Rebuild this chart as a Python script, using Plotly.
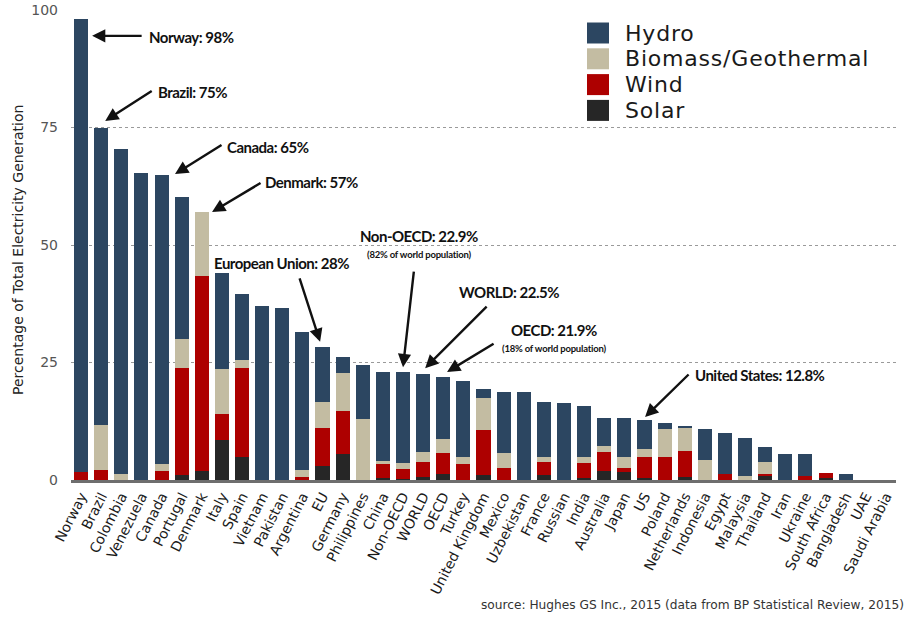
import plotly.graph_objects as go

# ---------------- data ----------------
categories = ["Norway", "Brazil", "Colombia", "Venezuela", "Canada", "Portugal", "Denmark",
              "Italy", "Spain", "Vietnam", "Pakistan", "Argentina", "EU", "Germany",
              "Philippines", "China", "Non-OECD", "WORLD", "OECD", "Turkey", "United Kingdom",
              "Mexico", "Uzbekistan", "France", "Russian", "India", "Australia", "Japan", "US",
              "Poland", "Netherlands", "Indonesia", "Egypt", "Malaysia", "Thailand", "Iran",
              "Ukraine", "South Africa", "Bangladesh", "UAE", "Saudi Arabia"]

solar = [0, 0, 0, 0, 0, 1.1, 1.9, 8.5, 4.8, 0, 0, 0, 3.0, 5.5, 0, 0.5, 0.2, 0.6, 1.3, 0,
         1.1, 0, 0, 1.1, 0, 0.5, 1.9, 1.8, 0.4, 0, 0.7, 0, 0, 0, 1.0, 0, 0, 0.5, 0, 0, 0]
wind = [1.6, 2.1, 0, 0, 2.0, 22.7, 41.5, 5.5, 19.0, 0, 0, 0.6, 8.0, 9.2, 0, 2.8, 2.1, 3.2, 4.4, 3.3,
        9.6, 2.5, 0, 2.8, 0, 3.1, 4.1, 0.7, 4.4, 4.8, 5.5, 0, 1.2, 0, 0.3, 0, 0.8, 0.9, 0, 0, 0]
biomass = [0, 9.7, 1.2, 0, 1.4, 6.1, 13.6, 9.7, 1.8, 0, 0, 1.5, 5.6, 8.1, 12.9, 0.8, 1.3, 2.1, 3.0, 1.5,
           6.7, 3.2, 0, 1.1, 0, 1.4, 1.3, 2.3, 1.8, 6.1, 4.9, 4.3, 0, 0.9, 2.5, 0, 0, 0, 0, 0, 0]
hydro = [96.4, 63.2, 69.3, 65.4, 61.6, 30.3, 0, 20.4, 14.0, 37.0, 36.5, 29.3, 11.7, 3.4, 11.6, 18.9,
         19.3, 16.6, 13.2, 16.2, 1.9, 13.1, 18.8, 11.5, 16.3, 10.8, 5.9, 8.4, 6.2, 1.2, 0.3, 6.5,
         8.8, 8.0, 3.2, 5.5, 4.7, 0, 1.2, 0, 0]

series_names = ["Solar", "Wind", "Biomass/Geothermal", "Hydro"]
series_values = [solar, wind, biomass, hydro]
series_colors = ["#262626", "#ad0000", "#c3bca2", "#2c4661"]

y_ticks = [0, 25, 50, 75, 100]

# callouts: (text, subtitle, category at head, x offset in category units, y value at head)
callouts = [
    ("Norway: 98%", "", "Norway", 0.55, 94.5),
    ("Brazil: 75%", "", "Brazil", 0.2, 76.4),
    ("Canada: 65%", "", "Canada", 0.67, 65.1),
    ("Denmark: 57%", "", "Denmark", 0.51, 57.0),
    ("European Union: 28%", "", "EU", -0.12, 29.4),
    ("Non-OECD: 22.9%", "(82% of world population)", "Non-OECD", 0.0, 24.0),
    ("WORLD: 22.5%", "", "WORLD", 0.1, 23.8),
    ("OECD: 21.9%", "(18% of world population)", "OECD", 0.19, 23.0),
    ("United States: 12.8%", "", "US", 0.03, 13.4),
]
# ---------------- layout helpers ----------------
W, H = 924, 621
L, R, T, B = 71, 28, 10, 141
PW, PH = W - L - R, H - T - B


def px(x):
    return (x - L) / PW


def py(y):
    return (H - B - y) / PH


fig = go.Figure()
for name, vals, col in zip(series_names, series_values, series_colors):
    fig.add_trace(go.Bar(x=categories, y=vals, name=name, marker=dict(color=col, line=dict(width=0)),
                         showlegend=False, hoverinfo="x+y+name"))

LBL_FONT = "Lato, sans-serif"
annotations = []
arrow_tails = [(51, 0), (48, -31), (48, -30), (50, -30), (-21, -65), (11, -97), (63, -63), (48, -29), (45, -44)]
text_pos = [(191, 37), (192, 92), (268, 147), (311, 182), (281, 263), (419, 236), (509, 292), (554, 330), (760, 375)]
sub_pos = {5: (419, 254), 7: (554, 348)}

for k, (txt, sub, cat, dx, yv) in enumerate(callouts):
    idx = categories.index(cat) + dx
    ax, ay = arrow_tails[k]
    annotations.append(dict(x=idx, y=yv, xref="x", yref="y", text="", showarrow=True,
                            ax=ax, ay=ay, arrowhead=2, arrowsize=1.1, arrowwidth=2.4,
                            arrowcolor="#111111", standoff=0))
    tx, ty = text_pos[k]
    annotations.append(dict(x=px(tx), y=py(ty), xref="paper", yref="paper",
                            text="<span style='letter-spacing:-0.5px'><b>%s</b></span>" % txt,
                            showarrow=False, xanchor="center", yanchor="middle",
                            font=dict(family=LBL_FONT, size=15, color="#111111")))
    if sub:
        sx, sy = sub_pos[k]
        annotations.append(dict(x=px(sx), y=py(sy), xref="paper", yref="paper",
                                text="<span style='letter-spacing:-0.2px'><b>%s</b></span>" % sub,
                                showarrow=False, xanchor="center", yanchor="middle",
                                font=dict(family=LBL_FONT, size=9.5, color="#111111")))

# manual legend
legend_order = ["Hydro", "Biomass/Geothermal", "Wind", "Solar"]
shapes = []
for j, name in enumerate(legend_order):
    col = series_colors[series_names.index(name)]
    y0 = 22.5 + j * 25.8
    shapes.append(dict(type="rect", xref="paper", yref="paper", x0=px(587), x1=px(609),
                       y0=py(y0 + 21), y1=py(y0), fillcolor=col, line=dict(width=0)))
    annotations.append(dict(x=px(623), y=py(y0 + 10.5), xref="paper", yref="paper",
                            text="<span style='letter-spacing:0.8px'>%s</span>" % name,
                            showarrow=False, xanchor="left", yanchor="middle",
                            font=dict(family="DejaVu Sans", size=22, color="#1a1a1a")))

# y-axis title and source
annotations.append(dict(x=px(18), y=py(250), xref="paper", yref="paper",
                        text="Percentage of Total Electricity Generation", textangle=-90,
                        showarrow=False, xanchor="center", yanchor="middle",
                        font=dict(family="DejaVu Sans", size=14, color="#222222")))
annotations.append(dict(x=px(906), y=py(605), xref="paper", yref="paper",
                        text="source: Hughes GS Inc., 2015 (data from BP Statistical Review, 2015)",
                        showarrow=False, xanchor="right", yanchor="middle",
                        font=dict(family="DejaVu Sans", size=12.2, color="#333333")))

fig.update_layout(
    width=W, height=H, margin=dict(l=L, r=R, t=T, b=B, autoexpand=False),
    barmode="stack", bargap=0.3,
    paper_bgcolor="white", plot_bgcolor="white",
    showlegend=False,
    annotations=annotations, shapes=shapes,
    font=dict(family="DejaVu Sans", color="#222222"),
)
fig.update_xaxes(type="category", tickangle=-63, tickfont=dict(size=14, color="#1a1a1a"),
                 showline=True, linecolor="#6e6e6e", linewidth=2.5, ticks="", showgrid=False,
                 automargin=False, range=[-0.5, len(categories) - 0.5])
fig.update_yaxes(range=[0, 100], tickvals=y_ticks, showgrid=True, gridcolor="#9a9a9a", griddash="dot",
                 gridwidth=1, zeroline=False, showline=False, tickfont=dict(size=14, color="#555555"),
                 ticklabelstandoff=12, automargin=False)

fig.write_html("out.html", config={"displayModeBar": False},
               post_script="document.body.style.margin='0';")
